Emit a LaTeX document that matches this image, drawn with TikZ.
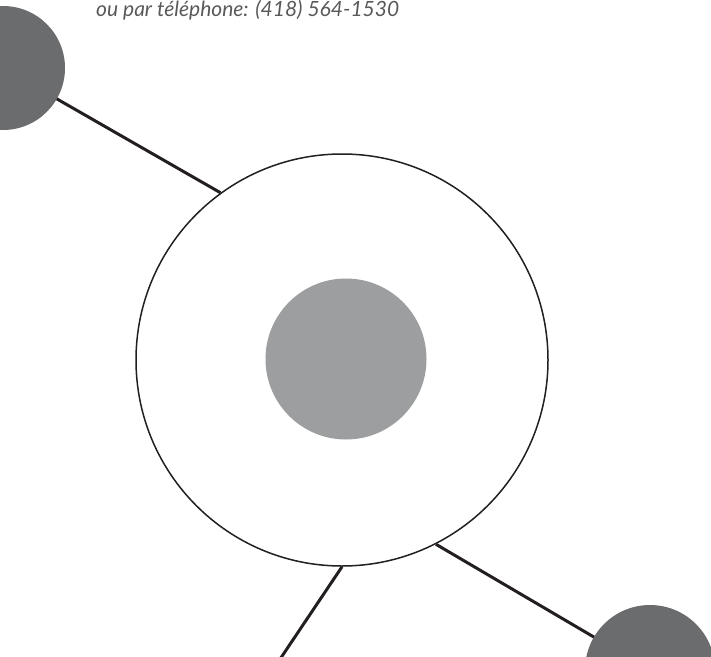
\documentclass[tikz,border=0pt]{standalone}
\usepackage{fontspec}
\newfontfamily\txtfont{Lato}
\begin{document}
\begin{tikzpicture}[x=1pt,y=-1pt,
  conn/.style={line width=3pt,draw={rgb,255:red,35;green,31;blue,32}},
  sat/.style={circle,fill={rgb,255:red,107;green,108;blue,110},inner sep=0pt,minimum size=#1},
]
\useasboundingbox (0,0) rectangle (711,656);
\clip (0,0) rectangle (711,656);
\node[font=\txtfont\itshape\fontsize{21}{24}\selectfont,text={rgb,255:red,88;green,89;blue,91},anchor=base west,inner sep=0pt] (txt) at (96,16) {ou par téléphone: (418) 564-1530};
\node[circle,draw={rgb,255:red,35;green,31;blue,32},line width=1.5pt,minimum size=412pt,inner sep=0pt] (big) at (342,360) {};
\coordinate (tlc) at (3,68);
\coordinate (brc) at (650,670);
\coordinate (bot) at (262,686);
\draw[conn] (big.126.5) -- (tlc);
\draw[conn] (big.-63.3) -- (brc);
\draw[conn] (big.-90) -- (bot);
\node[sat=124pt] (tl) at (tlc) {};
\node[sat=130pt] (br) at (brc) {};
\node[circle,fill={rgb,255:red,157;green,158;blue,159},minimum size=161pt,inner sep=0pt] (core) at (346,359) {};
\end{tikzpicture}
\end{document}
